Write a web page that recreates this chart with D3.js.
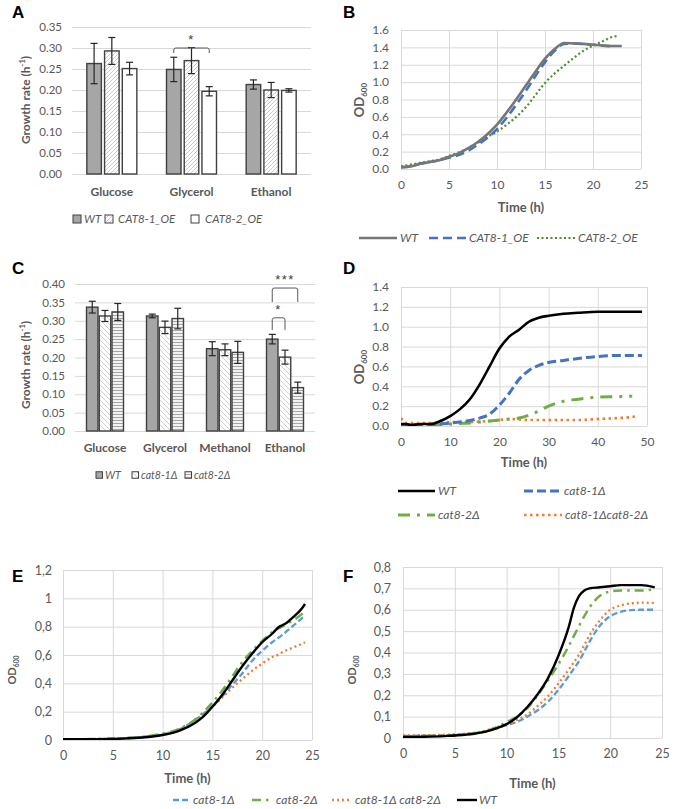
<!DOCTYPE html>
<html><head><meta charset="utf-8">
<script src="https://cdn.jsdelivr.net/npm/d3@7"></script>
<style>body{margin:0;background:#fff}svg{display:block}</style>
</head><body>
<svg id="c" width="677" height="809"></svg>
<script>
// ---------------- DATA ----------------
// Panel A
const aCategories = ["Glucose", "Glycerol", "Ethanol"];
const aSeries = ["WT", "CAT8-1_OE", "CAT8-2_OE"];
const aMeans = [[0.263, 0.293, 0.251], [0.249, 0.270, 0.197], [0.213, 0.200, 0.199]];
const aErrors = [[0.048, 0.032, 0.015], [0.029, 0.031, 0.011], [0.011, 0.018, 0.004]];
const aTicks = [0, 0.05, 0.10, 0.15, 0.20, 0.25, 0.30, 0.35];
const aSig = [{cat: "Glycerol", from: "WT", to: "CAT8-2_OE", top: 0.300, end: 0.288, label: "*"}];

// Panel B
const bTime = [0, 1, 2, 3, 4, 5, 6, 7, 8, 9, 10, 11, 12, 13, 14, 15, 16, 17, 18, 19, 20, 21, 22, 22.5, 23];
const bWT =    [0.02, 0.03, 0.06, 0.08, 0.10, 0.14, 0.18, 0.24, 0.31, 0.40, 0.51, 0.65, 0.80, 0.96, 1.12, 1.27, 1.38, 1.45, 1.445, 1.44, 1.43, 1.42, 1.415, 1.415, 1.415];
const bCAT81 = [0.02, 0.03, 0.06, 0.08, 0.10, 0.13, 0.16, 0.21, 0.28, 0.36, 0.46, 0.59, 0.74, 0.90, 1.07, 1.23, 1.36, 1.44, 1.445, 1.44, 1.43, 1.42, 1.41, null, null];
const bCAT82 = [0.03, 0.05, 0.07, 0.09, 0.11, 0.15, 0.19, 0.24, 0.30, 0.37, 0.43, 0.51, 0.60, 0.71, 0.85, 0.99, 1.10, 1.19, 1.28, 1.36, 1.42, 1.47, 1.52, 1.53, null];
const bXTicks = [0, 5, 10, 15, 20, 25];
const bYTicks = [0, 0.2, 0.4, 0.6, 0.8, 1.0, 1.2, 1.4, 1.6];

// Panel C
const cCategories = ["Glucose", "Glycerol", "Methanol", "Ethanol"];
const cSeries = ["WT", "cat8-1Δ", "cat8-2Δ"];
const cMeans = [[0.337, 0.313, 0.324], [0.313, 0.282, 0.306], [0.224, 0.221, 0.214], [0.250, 0.201, 0.118]];
const cErrors = [[0.016, 0.015, 0.023], [0.005, 0.017, 0.028], [0.019, 0.016, 0.030], [0.013, 0.019, 0.015]];
const cTicks = [0, 0.05, 0.10, 0.15, 0.20, 0.25, 0.30, 0.35, 0.40];
const cSig = [
  {cat: "Ethanol", from: "WT", to: "cat8-1Δ", top: 0.308, end: 0.275, label: "*"},
  {cat: "Ethanol", from: "WT", to: "cat8-2Δ", top: 0.389, end: 0.351, label: "***"}
];

// Panel D
const dTime = [0, 1, 2, 4, 6, 8, 10, 12, 14, 16, 18, 20, 22, 24, 26, 28, 30, 33, 36, 40, 44, 47, 48, 49];
const dWT =     [0.02, 0.02, 0.01, 0.02, 0.02, 0.05, 0.10, 0.17, 0.27, 0.42, 0.60, 0.78, 0.90, 0.97, 1.05, 1.09, 1.11, 1.13, 1.14, 1.15, 1.15, 1.15, 1.15, 1.15];
const dCat81 =  [0.01, 0.01, 0.01, 0.01, 0.01, 0.02, 0.03, 0.04, 0.055, 0.08, 0.12, 0.21, 0.33, 0.47, 0.56, 0.61, 0.64, 0.66, 0.68, 0.70, 0.71, 0.71, 0.71, 0.71];
const dCat82 =  [0.01, 0.01, 0.01, 0.01, 0.01, 0.015, 0.02, 0.025, 0.03, 0.04, 0.05, 0.06, 0.07, 0.08, 0.11, 0.15, 0.20, 0.25, 0.27, 0.29, 0.295, 0.30, null, null];
const dDouble = [0.08, 0.03, 0.03, 0.03, 0.03, 0.035, 0.04, 0.04, 0.04, 0.045, 0.05, 0.06, 0.07, 0.065, 0.06, 0.06, 0.06, 0.06, 0.06, 0.07, 0.08, 0.09, 0.10, null];
const dXTicks = [0, 10, 20, 30, 40, 50];
const dYTicks = [0, 0.2, 0.4, 0.6, 0.8, 1.0, 1.2, 1.4];

// Panel E
const eTime = [0, 2, 4, 6, 8, 9, 10, 11, 12, 13, 14, 15, 16, 17, 18, 19, 20, 21, 21.7, 22, 22.5, 23, 24, 24.3];
const eWT =     [0.005, 0.005, 0.006, 0.010, 0.018, 0.025, 0.035, 0.050, 0.075, 0.110, 0.160, 0.235, 0.320, 0.420, 0.520, 0.610, 0.690, 0.750, 0.800, 0.810, 0.830, 0.860, 0.930, 0.960];
const eCat81 =  [0.006, 0.006, 0.008, 0.012, 0.022, 0.030, 0.040, 0.060, 0.085, 0.130, 0.180, 0.240, 0.310, 0.390, 0.470, 0.560, 0.630, 0.690, 0.725, 0.740, 0.770, 0.800, 0.860, 0.880];
const eCat82 =  [0.006, 0.006, 0.008, 0.012, 0.022, 0.032, 0.045, 0.060, 0.090, 0.130, 0.190, 0.265, 0.350, 0.450, 0.550, 0.630, 0.700, 0.760, 0.790, 0.800, 0.820, 0.840, 0.890, 0.910];
const eDouble = [0.006, 0.006, 0.008, 0.012, 0.022, 0.030, 0.040, 0.060, 0.085, 0.125, 0.175, 0.235, 0.300, 0.370, 0.430, 0.490, 0.540, 0.585, 0.605, 0.620, 0.635, 0.650, 0.680, 0.690];
const eXTicks = [0, 5, 10, 15, 20, 25];
const eYTicks = [0, 0.2, 0.4, 0.6, 0.8, 1, 1.2];

// Panel F
const fTime = [0, 2, 4, 6, 8, 9, 10, 11, 12, 13, 14, 15, 16, 16.5, 17, 17.5, 18, 19, 20, 21, 22, 23, 24.3];
const fWT =     [0.005, 0.006, 0.009, 0.015, 0.030, 0.045, 0.065, 0.097, 0.145, 0.205, 0.280, 0.385, 0.520, 0.610, 0.665, 0.690, 0.700, 0.705, 0.710, 0.715, 0.715, 0.715, 0.705];
const fCat81 =  [0.010, 0.011, 0.013, 0.018, 0.032, 0.045, 0.060, 0.075, 0.100, 0.130, 0.170, 0.225, 0.290, 0.325, 0.360, 0.405, 0.450, 0.525, 0.570, 0.590, 0.598, 0.600, 0.600];
const fCat82 =  [0.008, 0.009, 0.011, 0.016, 0.032, 0.050, 0.075, 0.100, 0.140, 0.200, 0.270, 0.345, 0.430, 0.478, 0.525, 0.570, 0.610, 0.665, 0.685, 0.690, 0.690, 0.690, 0.695];
const fDouble = [0.012, 0.013, 0.015, 0.020, 0.035, 0.050, 0.065, 0.085, 0.110, 0.150, 0.195, 0.255, 0.320, 0.355, 0.390, 0.435, 0.480, 0.550, 0.600, 0.620, 0.630, 0.633, 0.632];
const fXTicks = [0, 5, 10, 15, 20, 25];
const fYTicks = [0, 0.1, 0.2, 0.3, 0.4, 0.5, 0.6, 0.7, 0.8];

// ---------------- DRAWING ----------------
const svg = d3.select("#c");
const GRID = "#d9d9d9", TXT = "#595959", FONT = "Lato, 'Open Sans', sans-serif";

const defs = svg.append("defs");
const pA = defs.append("pattern").attr("id", "hatchA").attr("patternUnits", "userSpaceOnUse").attr("width", 4).attr("height", 4);
pA.append("rect").attr("width", 4).attr("height", 4).attr("fill", "#fff");
pA.append("path").attr("d", "M-1,1 l2,-2 M0,4 l4,-4 M3,5 l2,-2").attr("stroke", "#bdbdbd").attr("stroke-width", 0.8);
const pC1 = defs.append("pattern").attr("id", "hatchC1").attr("patternUnits", "userSpaceOnUse").attr("width", 5).attr("height", 5);
pC1.append("rect").attr("width", 5).attr("height", 5).attr("fill", "#fff");
pC1.append("path").attr("d", "M-1,-1 l7,7 M-1,4 l2,2 M4,-1 l2,2").attr("stroke", "#c4c4c4").attr("stroke-width", 0.8);
const pC2 = defs.append("pattern").attr("id", "stripeC2").attr("patternUnits", "userSpaceOnUse").attr("width", 4).attr("height", 3);
pC2.append("rect").attr("width", 4).attr("height", 3).attr("fill", "#f2f2f2");
pC2.append("line").attr("x1", 0).attr("x2", 4).attr("y1", 0.5).attr("y2", 0.5).attr("stroke", "#a6a6a6").attr("stroke-width", 1);

function styleGridAxis(sel, fs) {
  sel.attr("font-family", FONT).attr("font-size", fs);
  sel.select(".domain").remove();
  sel.selectAll(".tick line").attr("stroke", GRID).attr("stroke-width", 1);
  sel.selectAll(".tick text").attr("fill", TXT);
}

function panelLetter(letter, x, y) {
  svg.append("text").attr("x", x).attr("y", y).text(letter)
    .attr("font-family", "'Liberation Sans', Arial, sans-serif").attr("font-weight", "bold").attr("font-size", 17).attr("fill", "#000");
}

function growthTitle(x, y) {
  const t = svg.append("text").attr("transform", `translate(${x},${y}) rotate(-90)`).attr("text-anchor", "middle")
    .attr("font-family", FONT).attr("font-weight", "bold").attr("font-size", 12).attr("fill", TXT);
  t.append("tspan").text("Growth rate (h");
  t.append("tspan").text("-1").attr("font-size", 7.5).attr("dy", -5);
  t.append("tspan").text(")").attr("dy", 5);
}

function odTitle(x, y, fs) {
  const t = svg.append("text").attr("transform", `translate(${x},${y}) rotate(-90)`).attr("text-anchor", "middle")
    .attr("font-family", FONT).attr("font-weight", "bold").attr("font-size", fs).attr("fill", TXT);
  t.append("tspan").text("OD");
  t.append("tspan").text("600").attr("font-size", fs * 0.62).attr("dy", 3);
}

function barPanel(cfg) {
  const g = svg.append("g");
  const x = d3.scaleBand().domain(cfg.categories).range([cfg.x0, cfg.x1]);
  const inner = d3.scaleBand().domain(cfg.series).range([0, cfg.groupW]).paddingInner(cfg.innerPad);
  const y = d3.scaleLinear().domain([0, d3.max(cfg.ticks)]).range([cfg.y0, cfg.y1]);
  g.append("g").attr("transform", `translate(${cfg.x0},0)`)
    .call(d3.axisLeft(y).tickValues(cfg.ticks).tickSize(-(cfg.x1 - cfg.x0)).tickPadding(cfg.tickPad).tickFormat(d3.format(".2f")))
    .call(s => styleGridAxis(s, 11.5));
  g.append("g").attr("transform", `translate(0,${cfg.y0})`)
    .call(d3.axisBottom(x).tickSize(0).tickPadding(cfg.catPad))
    .call(s => {
      s.attr("font-family", FONT).attr("font-size", 12).attr("font-weight", "bold");
      s.select(".domain").remove();
      s.selectAll("text").attr("fill", TXT);
    });
  const bx = (c, s) => x(c) + x.bandwidth() / 2 - cfg.groupW / 2 + inner(s);
  const flat = [];
  cfg.categories.forEach((c, i) => cfg.series.forEach((s, j) => flat.push({c, s, j, m: cfg.means[i][j], e: cfg.errors[i][j]})));
  g.selectAll("rect.bar").data(flat).join("rect").attr("class", "bar")
    .attr("x", d => bx(d.c, d.s)).attr("width", inner.bandwidth())
    .attr("y", d => y(d.m)).attr("height", d => y(0) - y(d.m))
    .attr("fill", d => cfg.fills[d.j]).attr("stroke", "#404040").attr("stroke-width", 1.4);
  const eb = g.selectAll("g.err").data(flat).join("g").attr("class", "err")
    .attr("stroke", "#262626").attr("stroke-width", 1.2);
  const cx = d => bx(d.c, d.s) + inner.bandwidth() / 2;
  eb.append("line").attr("x1", cx).attr("x2", cx).attr("y1", d => y(d.m + d.e)).attr("y2", d => y(d.m - d.e));
  eb.append("line").attr("x1", d => cx(d) - 3.5).attr("x2", d => cx(d) + 3.5).attr("y1", d => y(d.m + d.e)).attr("y2", d => y(d.m + d.e));
  eb.append("line").attr("x1", d => cx(d) - 3.5).attr("x2", d => cx(d) + 3.5).attr("y1", d => y(d.m - d.e)).attr("y2", d => y(d.m - d.e));
  // significance brackets
  cfg.sig.forEach(sg => {
    const xa = bx(sg.cat, sg.from) + inner.bandwidth() / 2, xb = bx(sg.cat, sg.to) + inner.bandwidth() / 2;
    const yt = y(sg.top), ye = y(sg.end), r = 2;
    g.append("path").attr("d", `M${xa},${ye} L${xa},${yt + r} Q${xa},${yt} ${xa + r},${yt} L${xb - r},${yt} Q${xb},${yt} ${xb},${yt + r} L${xb},${ye}`)
      .attr("fill", "none").attr("stroke", "#595959").attr("stroke-width", 1);
    g.append("text").attr("x", (xa + xb) / 2).attr("y", yt - 4).attr("text-anchor", "middle")
      .attr("font-family", "'Liberation Sans', Arial, sans-serif").attr("font-size", 13).attr("fill", "#404040").attr("letter-spacing", 1.5).text(sg.label);
  });
  // legend
  cfg.legend.forEach((L, j) => {
    g.append("rect").attr("x", L.sx).attr("y", cfg.legY - L.sz / 2).attr("width", L.sz).attr("height", L.sz)
      .attr("fill", cfg.fills[j]).attr("stroke", "#404040").attr("stroke-width", 1);
    g.append("text").attr("x", L.tx).attr("y", cfg.legY).attr("dy", "0.35em").text(cfg.series[j])
      .attr("font-family", FONT).attr("font-style", "italic").attr("font-size", cfg.legFs).attr("fill", TXT);
  });
}

function linePanel(cfg) {
  const g = svg.append("g");
  const x = d3.scaleLinear().domain([0, d3.max(cfg.xTicks)]).range([cfg.x0, cfg.x1]);
  const y = d3.scaleLinear().domain([0, d3.max(cfg.yTicks)]).range([cfg.y0, cfg.y1]);
  g.append("g").attr("transform", `translate(${cfg.x0},0)`)
    .call(d3.axisLeft(y).tickValues(cfg.yTicks).tickSize(-(cfg.x1 - cfg.x0)).tickPadding(cfg.yPad).tickFormat(cfg.yFmt))
    .call(s => styleGridAxis(s, cfg.fs));
  g.append("g").attr("transform", `translate(0,${cfg.y0})`)
    .call(d3.axisBottom(x).tickValues(cfg.xTicks).tickSize(-(cfg.y0 - cfg.y1)).tickPadding(cfg.xPad).tickFormat(d3.format("d")))
    .call(s => styleGridAxis(s, cfg.fs));
  g.append("text").attr("x", (cfg.x0 + cfg.x1) / 2).attr("y", cfg.timeY).attr("text-anchor", "middle")
    .attr("font-family", FONT).attr("font-weight", "bold").attr("font-size", 13).attr("fill", TXT).text("Time (h)");
  const clip = "clip" + cfg.id;
  g.append("clipPath").attr("id", clip).append("rect").attr("x", cfg.x0).attr("y", cfg.y1 - 5).attr("width", cfg.x1 - cfg.x0).attr("height", cfg.y0 - cfg.y1 + 5);
  cfg.drawOrder.forEach(k => {
    const sr = cfg.series[k];
    const pts = cfg.time.map((t, i) => [t, sr.values[i]]);
    const line = d3.line().defined(d => d[1] != null).x(d => x(d[0])).y(d => y(d[1])).curve(d3.curveMonotoneX);
    g.append("path").attr("d", line(pts)).attr("fill", "none").attr("clip-path", `url(#${clip})`)
      .attr("stroke", sr.color).attr("stroke-width", sr.width).attr("stroke-dasharray", sr.dash)
      .attr("stroke-linejoin", "round");
  });
  cfg.series.forEach((sr, k) => {
    const L = cfg.legend[k];
    if (!L) return;
    svg.append("line").attr("x1", L.x1).attr("x2", L.x2).attr("y1", L.y).attr("y2", L.y)
      .attr("stroke", sr.color).attr("stroke-width", sr.width).attr("stroke-dasharray", sr.dash);
    svg.append("text").attr("x", L.tx).attr("y", L.y).attr("dy", "0.35em").text(sr.name)
      .attr("font-family", FONT).attr("font-style", "italic").attr("font-size", 12).attr("fill", TXT);
  });
}

// ----- Panel A -----
panelLetter("A", 12, 18);
barPanel({
  categories: aCategories, series: aSeries, means: aMeans, errors: aErrors, ticks: aTicks, sig: aSig,
  x0: 72, x1: 311, y0: 174, y1: 27, groupW: 50, innerPad: 0.18, tickPad: 10, catPad: 13,
  fills: ["#a6a6a6", "url(#hatchA)", "#ffffff"],
  legY: 219, legFs: 11.5,
  legend: [{sx: 73, sz: 8, tx: 84}, {sx: 105, sz: 8, tx: 118}, {sx: 191, sz: 8, tx: 205}]
});
growthTitle(30, 100);

// ----- Panel B -----
panelLetter("B", 343, 18);
linePanel({
  id: "B", time: bTime, xTicks: bXTicks, yTicks: bYTicks, x0: 401, x1: 641, y0: 169, y1: 30,
  yFmt: d3.format(".1f"), yPad: 12, xPad: 11, fs: 12, timeY: 212,
  series: [
    {name: "WT", values: bWT, color: "#767676", width: 2.6, dash: null},
    {name: "CAT8-1_OE", values: bCAT81, color: "#4472c4", width: 2.6, dash: "9,5"},
    {name: "CAT8-2_OE", values: bCAT82, color: "#4e8f2c", width: 2.2, dash: "2,2.5"}
  ],
  drawOrder: [2, 1, 0],
  legend: [{x1: 359, x2: 397, y: 238, tx: 400}, {x1: 429, x2: 467, y: 238, tx: 469}, {x1: 537, x2: 575, y: 238, tx: 578}]
});
odTitle(364, 100, 13);

// ----- Panel C -----
panelLetter("C", 12, 274);
barPanel({
  categories: cCategories, series: cSeries, means: cMeans, errors: cErrors, ticks: cTicks, sig: cSig,
  x0: 75, x1: 315, y0: 431, y1: 284, groupW: 37, innerPad: 0.1, tickPad: 10, catPad: 12,
  fills: ["#a6a6a6", "url(#hatchC1)", "url(#stripeC2)"],
  legY: 475, legFs: 10.5,
  legend: [{sx: 96, sz: 6.5, tx: 105}, {sx: 132, sz: 6.5, tx: 141}, {sx: 185, sz: 6.5, tx: 194}]
});
growthTitle(30, 365);

// ----- Panel D -----
panelLetter("D", 343, 274);
linePanel({
  id: "D", time: dTime, xTicks: dXTicks, yTicks: dYTicks, x0: 401, x1: 647, y0: 426, y1: 287,
  yFmt: d3.format(".1f"), yPad: 12, xPad: 11, fs: 12, timeY: 467,
  series: [
    {name: "WT", values: dWT, color: "#000000", width: 2.6, dash: null},
    {name: "cat8-1Δ", values: dCat81, color: "#4472c4", width: 3, dash: "9,4"},
    {name: "cat8-2Δ", values: dCat82, color: "#70ad47", width: 3, dash: "12,7,3,7"},
    {name: "cat8-1Δcat8-2Δ", values: dDouble, color: "#ed7d31", width: 2.6, dash: "2.5,3.5"}
  ],
  drawOrder: [3, 2, 1, 0],
  legend: [{x1: 398, x2: 435, y: 491, tx: 438}, {x1: 524, x2: 562, y: 491, tx: 564},
           {x1: 398, x2: 435, y: 515, tx: 438}, {x1: 524, x2: 562, y: 515, tx: 565}]
});
odTitle(364, 367, 13);

// ----- Panel E -----
const commaFmt = d => d === 0 ? "0" : String(+d.toFixed(1)).replace(".", ",");
panelLetter("E", 12, 582);
linePanel({
  id: "E", time: eTime, xTicks: eXTicks, yTicks: eYTicks, x0: 63, x1: 312, y0: 740, y1: 570,
  yFmt: commaFmt, yPad: 11, xPad: 11, fs: 12.5, timeY: 783,
  series: [
    {name: "cat8-1Δ", values: eCat81, color: "#5b9bd5", width: 2.3, dash: "6,3"},
    {name: "cat8-2Δ", values: eCat82, color: "#70ad47", width: 2.5, dash: "9,5,2.5,5"},
    {name: "cat8-1Δ cat8-2Δ", values: eDouble, color: "#ed7d31", width: 2.3, dash: "2,3"},
    {name: "WT", values: eWT, color: "#000000", width: 2.4, dash: null}
  ],
  drawOrder: [2, 0, 1, 3],
  legend: [{x1: 173, x2: 191, y: 800, tx: 193}, {x1: 252, x2: 271, y: 800, tx: 276},
           {x1: 332, x2: 351, y: 800, tx: 355}, {x1: 457, x2: 477, y: 800, tx: 479}]
});
odTitle(16, 670, 11);

// ----- Panel F -----
panelLetter("F", 343, 582);
linePanel({
  id: "F", time: fTime, xTicks: fXTicks, yTicks: fYTicks, x0: 403, x1: 662, y0: 738, y1: 567,
  yFmt: commaFmt, yPad: 12, xPad: 11, fs: 12.5, timeY: 788,
  series: [
    {name: "cat8-1Δ", values: fCat81, color: "#5b9bd5", width: 2.3, dash: "6,3"},
    {name: "cat8-2Δ", values: fCat82, color: "#70ad47", width: 2.5, dash: "9,5,2.5,5"},
    {name: "cat8-1Δ cat8-2Δ", values: fDouble, color: "#ed7d31", width: 2.3, dash: "2,3"},
    {name: "WT", values: fWT, color: "#000000", width: 2.4, dash: null}
  ],
  drawOrder: [0, 2, 1, 3],
  legend: []
});
odTitle(356, 670, 11);
</script>
</body></html>
